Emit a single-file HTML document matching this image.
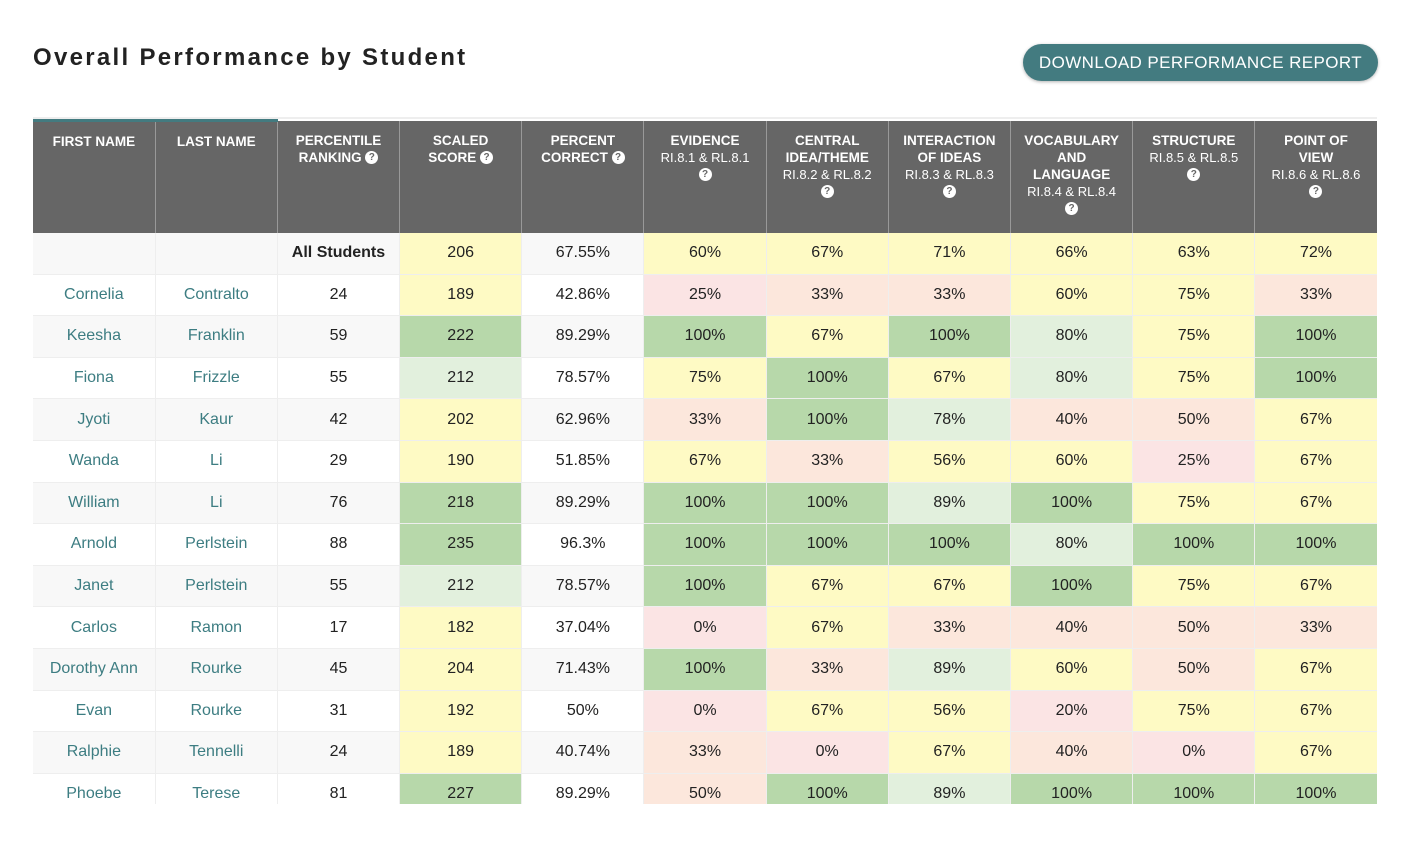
<!DOCTYPE html>
<html><head><meta charset="utf-8">
<style>
body{margin:0;width:1412px;height:852px;background:#fff;font-family:"Liberation Sans",sans-serif;overflow:hidden;position:relative}
#title{position:absolute;left:33px;top:44px;font-size:24px;font-weight:bold;letter-spacing:2.3px;color:#222}
#btn{position:absolute;left:1023px;top:44px;width:355px;height:37px;border-radius:19px;background:#437b80;color:#fff;font-size:17px;letter-spacing:0.4px;line-height:37px;text-align:center;box-shadow:0 1px 3px rgba(0,0,0,.3)}
#wrap{position:absolute;left:33px;top:117px;width:1344px;height:685px;overflow:hidden;border-top:2px solid #eee}
table{border-collapse:collapse;table-layout:fixed;width:1344px}
th{background:#666;color:#fff;height:112px;vertical-align:top;padding:11px 2px 0;font-size:13.5px;font-weight:bold;line-height:17px;border-right:1px solid #999;box-sizing:border-box}
th .s{font-weight:normal;font-size:13px}
th.t{border-top:3px solid #437b80}
.q{display:inline-block;width:13px;height:13px;border-radius:50%;background:#fff;color:#666;font-size:10px;line-height:13px;text-align:center;font-weight:bold;vertical-align:middle}
td{height:41.6px;text-align:center;font-size:16px;color:#222;border-right:1px solid #eee;border-bottom:1px solid #eee;padding:0;box-sizing:border-box}
tr.g td{background:#f8f8f8}
td.n{color:#3d7d82}
td.Y{background:#fefac4!important}
td.G{background:#b7d8aa!important}
td.L{background:#e2f0dd!important}
td.P{background:#fce7dc!important}
td.R{background:#fbe4e4!important}
</style></head><body>
<div id="title">Overall Performance by Student</div>
<div id="btn">DOWNLOAD PERFORMANCE REPORT</div>
<div id="wrap">
<table id="tbl"><colgroup id="cg"></colgroup><thead><tr id="hr"></tr></thead><tbody id="tb"></tbody></table>
</div>
<script>
const headers=[["FIRST NAME","",false],["LAST NAME","",false],["PERCENTILE<br>RANKING","",true],["SCALED<br>SCORE","",true],["PERCENT<br>CORRECT","",true],["EVIDENCE","RI.8.1 &amp; RL.8.1",true],["CENTRAL<br>IDEA/THEME","RI.8.2 &amp; RL.8.2",true],["INTERACTION<br>OF IDEAS","RI.8.3 &amp; RL.8.3",true],["VOCABULARY<br>AND<br>LANGUAGE","RI.8.4 &amp; RL.8.4",true],["STRUCTURE","RI.8.5 &amp; RL.8.5",true],["POINT OF<br>VIEW","RI.8.6 &amp; RL.8.6",true]];
const firstNames=["","Cornelia","Keesha","Fiona","Jyoti","Wanda","William","Arnold","Janet","Carlos","Dorothy Ann","Evan","Ralphie","Phoebe"];
const lastNames=["","Contralto","Franklin","Frizzle","Kaur","Li","Li","Perlstein","Perlstein","Ramon","Rourke","Rourke","Tennelli","Terese"];
const percentiles=["All Students",24,59,55,42,29,76,88,55,17,45,31,24,81];
const scaled=[206,189,222,212,202,190,218,235,212,182,204,192,189,227];
const pctCorrect=["67.55%","42.86%","89.29%","78.57%","62.96%","51.85%","89.29%","96.3%","78.57%","37.04%","71.43%","50%","40.74%","89.29%"];
const evidence=[60,25,100,75,33,67,100,100,100,0,100,0,33,50];
const central=[67,33,67,100,100,33,100,100,67,67,33,67,0,100];
const interaction=[71,33,100,67,78,56,89,100,67,33,89,56,67,89];
const vocab=[66,60,80,80,40,60,100,80,100,40,60,20,40,100];
const structure=[63,75,75,75,50,25,75,100,75,50,50,75,0,100];
const pov=[72,33,100,100,67,67,67,100,67,33,67,67,67,100];
const skills=[evidence,central,interaction,vocab,structure,pov];
const skillNames=["evidence","central-idea","interaction","vocabulary","structure","point-of-view"];
function pc(v){return v>=100?"G":v>=78?"L":v>=55?"Y":v>=30?"P":"R";}
function sc(v){return v>=215?"G":v>=210?"L":"Y";}
const cg=document.getElementById('cg');
headers.forEach(()=>{const c=document.createElement('col');c.style.width='122.2px';cg.appendChild(c);});
const hr=document.getElementById('hr');
headers.forEach((h,i)=>{const th=document.createElement('th');


if(i<2)th.className='t';
let html=h[0];
if(h[1])html+='<br><span class="s">'+h[1]+'</span><br><span class="q">?</span>';
else if(h[2])html+=' <span class="q">?</span>';
th.innerHTML=html;hr.appendChild(th);});
const tb=document.getElementById('tb');
firstNames.forEach((f,r)=>{const tr=document.createElement('tr');


if(r%2==0)tr.className='g';
const cells=[[f,'n'],[lastNames[r],'n'],[percentiles[r],''],[scaled[r],sc(scaled[r])],[pctCorrect[r],'']];
skills.forEach(s=>cells.push([s[r]+'%',pc(s[r])]));
cells.forEach((c,i)=>{const td=document.createElement('td');


td.className=c[1];td.textContent=c[0];
if(r==0&&i==2)td.style.fontWeight='bold';
tr.appendChild(td);});
tb.appendChild(tr);});
</script>
</body></html>
